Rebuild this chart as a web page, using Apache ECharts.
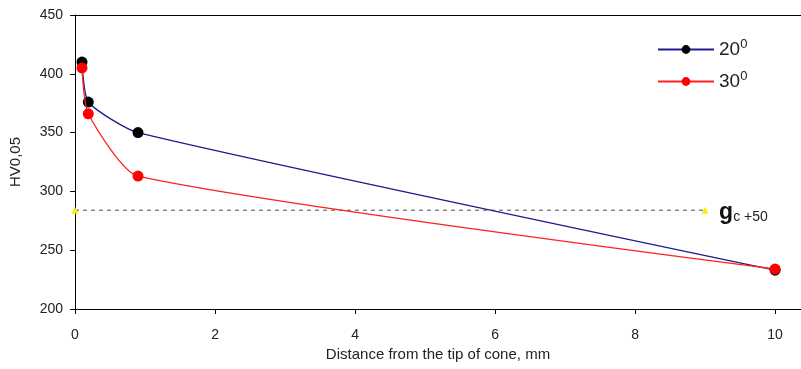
<!DOCTYPE html>
<html>
<head>
<meta charset="utf-8">
<script src="https://cdn.jsdelivr.net/npm/echarts@6/dist/echarts.min.js"></script>
<style>
  html, body { margin: 0; padding: 0; background: #fff; }
  #chart { width: 801px; height: 369px; }
</style>
</head>
<body>
<div id="chart"></div>
<script>
const dist20 = [0.1, 0.19, 0.9, 10];
const hv20 = [410, 376, 350, 233];
const dist30 = [0.1, 0.19, 0.9, 10];
const hv30 = [405, 366, 313, 234];
const refLineX = [0, 9];
const refLineY = 284;
const yTicks = [200, 250, 300, 350, 400, 450];

const pairs = (xs, ys) => xs.map((x, i) => [x, ys[i]]);

const myChart = echarts.init(document.getElementById("chart"));

const axisCommon = {
  type: "value",
  min: 0,
  max: 10.37,
  interval: 2,
};

myChart.setOption({
  animation: false,
  textStyle: { fontFamily: "Liberation Sans, Arial, sans-serif" },
  grid: { left: 75, right: 0, top: 15, bottom: 60 },
  legend: {
    left: 652,
    top: 33,
    orient: "vertical",
    itemWidth: 56,
    itemHeight: 11,
    itemGap: 11,
    data: ["20", "30"],
    formatter: (name) => "{a|" + name + "}{b|0}",
    textStyle: {
      rich: {
        a: { fontSize: 19, color: "#222", fontFamily: "Liberation Sans" },
        b: { fontSize: 13, color: "#222", verticalAlign: "top", padding: [0, 0, 10, 0], fontFamily: "Liberation Sans" },
      },
    },
  },
  xAxis: [
    {
      ...axisCommon,
      name: "Distance from the tip of cone, mm",
      nameLocation: "middle",
      nameGap: 38,
      nameTextStyle: { fontSize: 15, color: "#222" },
      axisLine: { show: true, lineStyle: { color: "#000", width: 1 } },
      axisTick: { show: true, length: 5, lineStyle: { color: "#000" } },
      axisLabel: {
        fontSize: 14,
        color: "#222",
        margin: 19,
        showMaxLabel: false,
        formatter: (v) => (v % 2 === 0 ? String(v) : ""),
      },
      splitLine: { show: false },
    },
    {
      ...axisCommon,
      position: "top",
      axisLine: { show: true, lineStyle: { color: "#000", width: 1 } },
      axisTick: { show: false },
      axisLabel: { show: false },
      splitLine: { show: false },
    },
  ],
  yAxis: {
    type: "value",
    min: yTicks[0],
    max: yTicks[yTicks.length - 1],
    interval: 50,
    name: "HV0,05",
    nameLocation: "middle",
    nameGap: 52,
    nameTextStyle: { fontSize: 15, color: "#222" },
    axisLine: { show: true, lineStyle: { color: "#000", width: 1 } },
    axisTick: { show: true, length: 5, lineStyle: { color: "#000" } },
    axisLabel: { fontSize: 14, color: "#222", margin: 12 },
    splitLine: { show: false },
  },
  series: [
    {
      name: "ref",
      type: "line",
      data: refLineX.map((x) => [x, refLineY]),
      symbol: "triangle",
      symbolSize: 7,
      itemStyle: { color: "#f5f000" },
      lineStyle: { color: "#555", width: 1, type: [4, 4] },
      z: 1,
      label: { show: false },
      endLabel: {
        show: true,
        offset: [6, 2],
        formatter: "{g|g}{s|c +50}",
        rich: {
          g: { fontSize: 23, fontWeight: "bold", color: "#111", fontFamily: "Liberation Sans" },
          s: { fontSize: 14, color: "#222", verticalAlign: "bottom", padding: [8, 0, 0, 0], fontFamily: "Liberation Sans" },
        },
      },
    },
    {
      name: "20",
      type: "line",
      data: pairs(dist20, hv20),
      smooth: 0.2,
      symbol: "circle",
      symbolSize: 11,
      itemStyle: { color: "#000" },
      lineStyle: { color: "#1c1c8c", width: 1.3 },
      z: 2,
    },
    {
      name: "30",
      type: "line",
      data: pairs(dist30, hv30),
      smooth: 0.2,
      symbol: "circle",
      symbolSize: 11,
      itemStyle: { color: "#ff0000" },
      lineStyle: { color: "#ff2020", width: 1.3 },
      z: 3,
    },
  ],
});
</script>
</body>
</html>
